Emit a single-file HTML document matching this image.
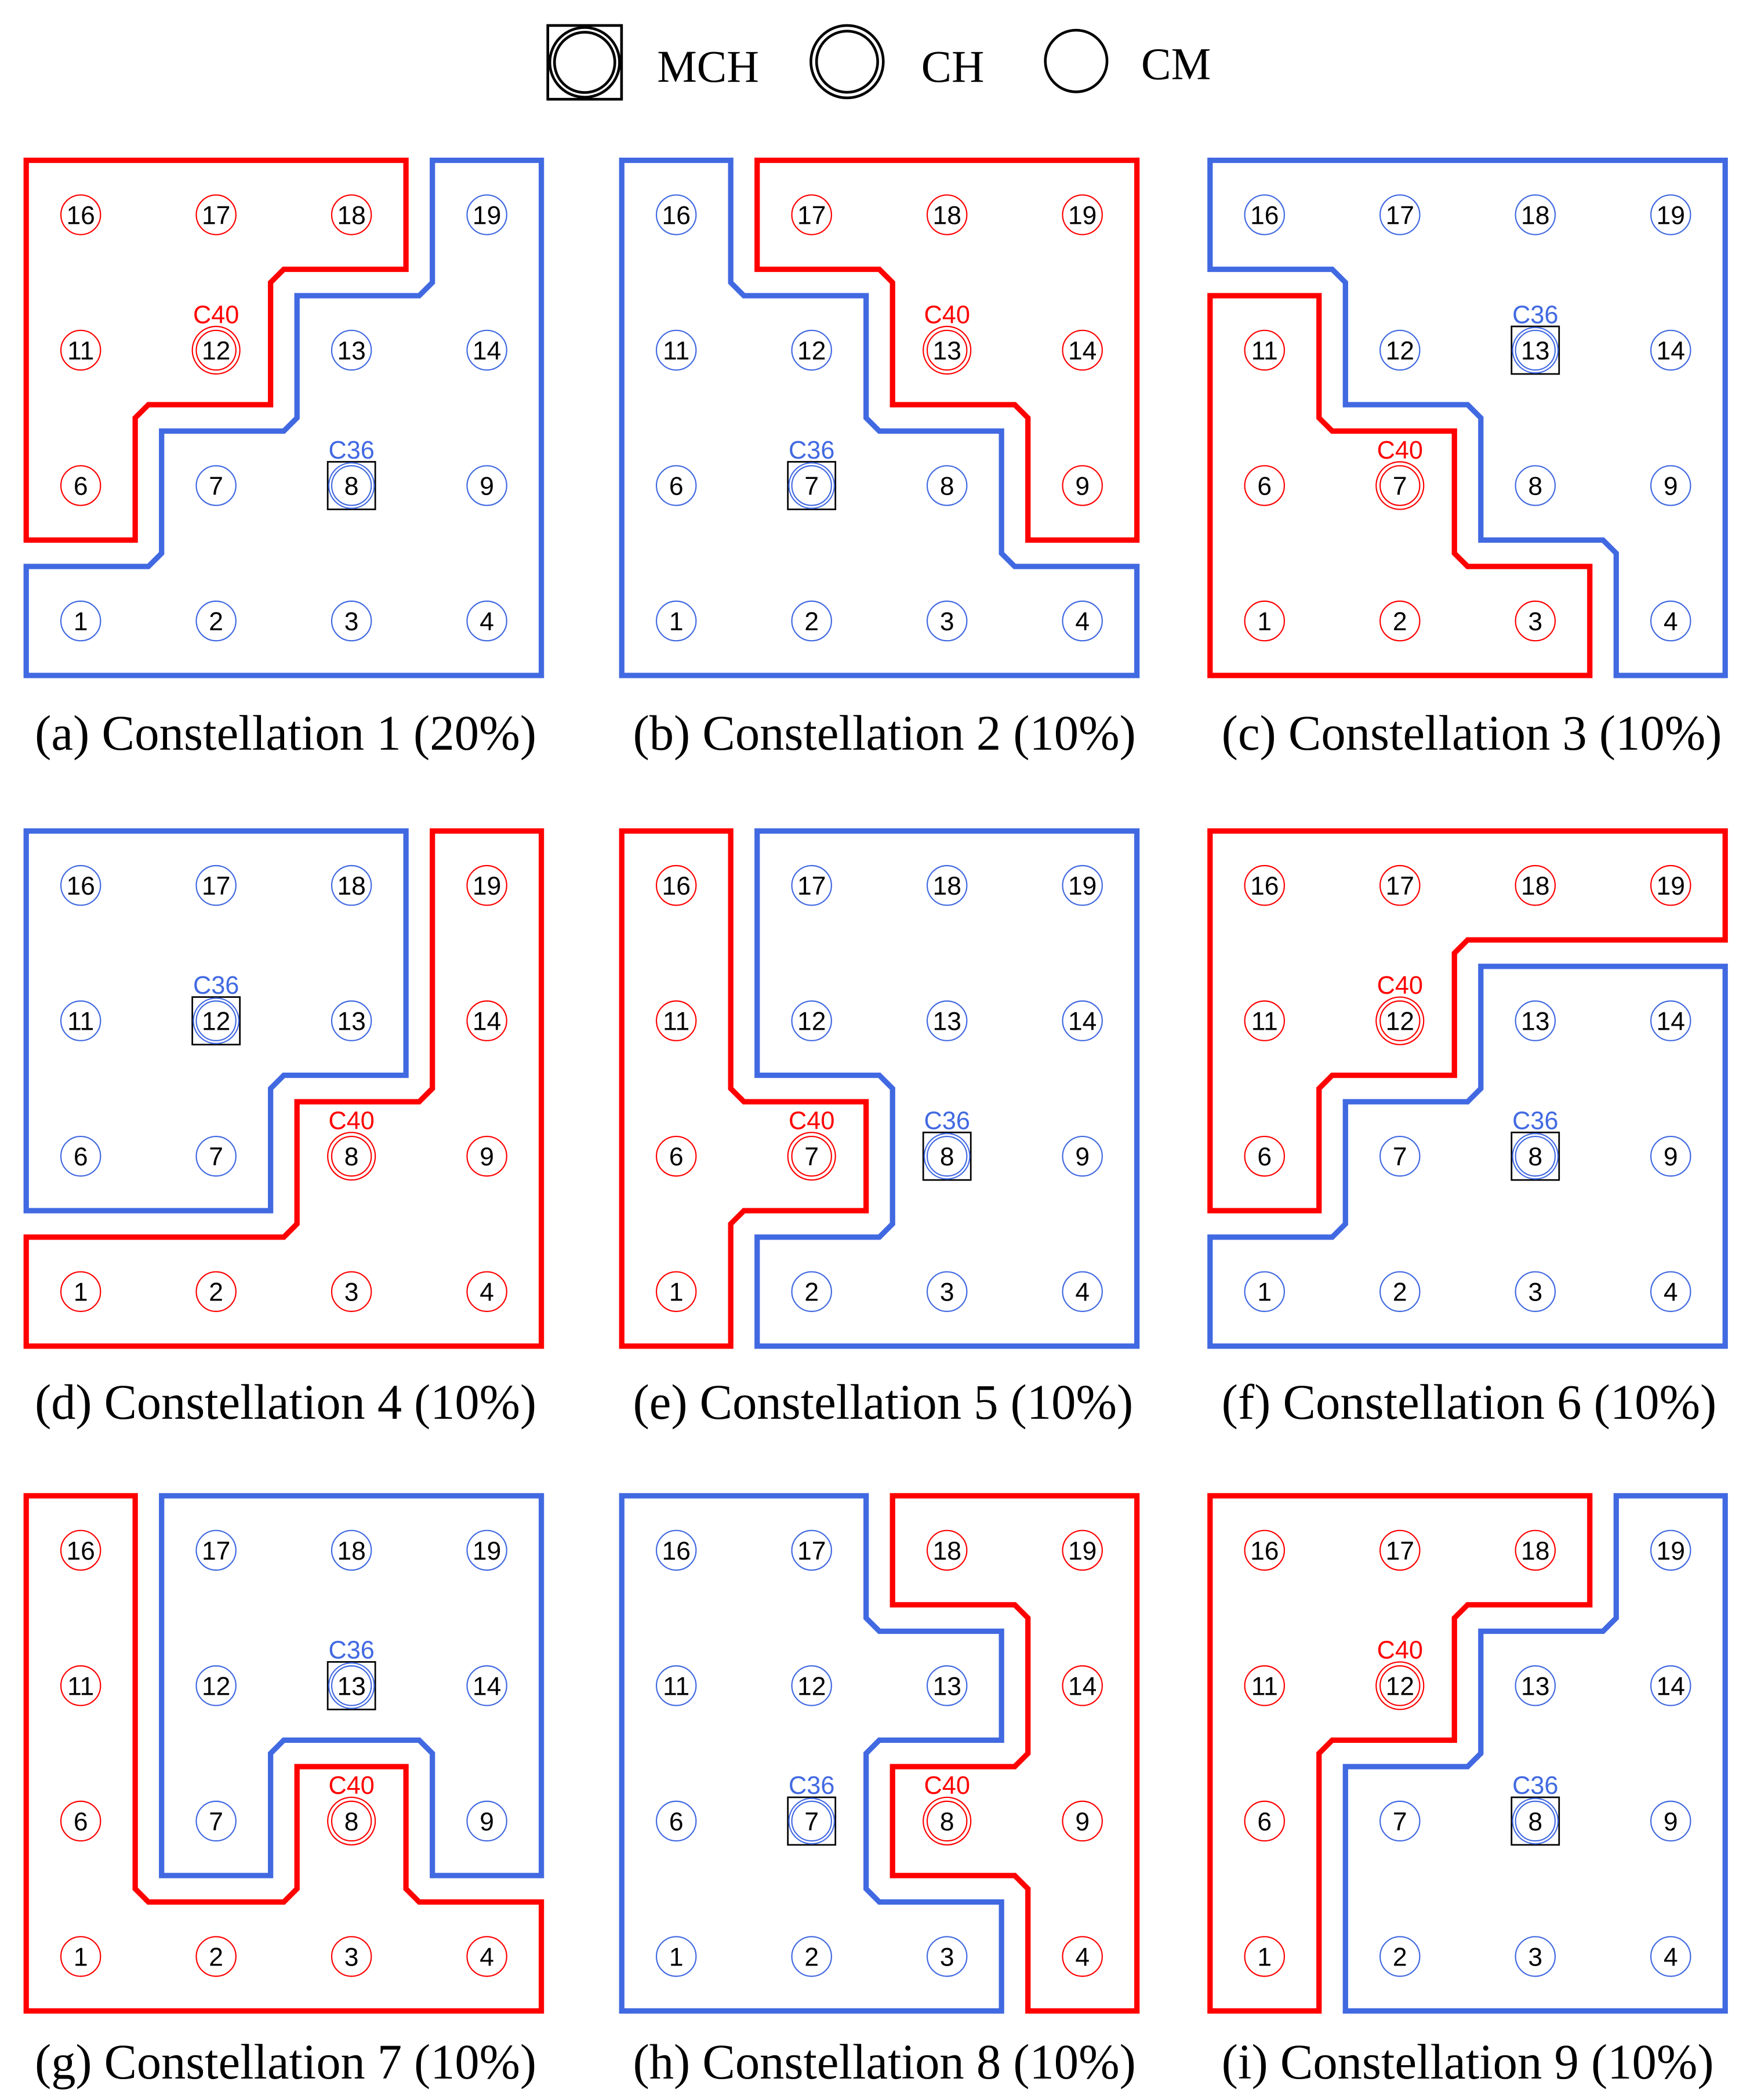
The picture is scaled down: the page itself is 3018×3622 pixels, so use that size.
<!DOCTYPE html>
<html><head><meta charset="utf-8"><style>
html,body{margin:0;padding:0;background:#fff}
svg{display:block}
.r{stroke:#ff0000;fill:none;stroke-width:0.95}
.b{stroke:#4169e1;fill:none;stroke-width:0.95}
.pr{stroke:#ff0000;fill:none;stroke-width:4.06;stroke-linejoin:miter}
.pb{stroke:#4169e1;fill:none;stroke-width:4.06;stroke-linejoin:miter}
.bx{stroke:#000;fill:none;stroke-width:1.2}
.n{font-family:"Liberation Sans",Arial,sans-serif;font-size:19.5px;text-anchor:middle;fill:#000}
.lr{font-family:"Liberation Sans",Arial,sans-serif;font-size:19px;text-anchor:middle;fill:#ff0000}
.lb{font-family:"Liberation Sans",Arial,sans-serif;font-size:19px;text-anchor:middle;fill:#4169e1}
.cap{font-family:"Liberation Serif","Times New Roman",serif;font-size:37px;text-anchor:middle;fill:#000}
.leg{font-family:"Liberation Serif","Times New Roman",serif;font-size:34px;fill:#000}
</style></head><body>
<svg width="3018" height="3622" viewBox="0 0 1305 1566" preserveAspectRatio="none" xmlns="http://www.w3.org/2000/svg">
<rect width="1305" height="1566" fill="#fff"/>
<!-- legend -->
<rect x="408.5" y="19" width="55" height="55" fill="none" stroke="#000" stroke-width="2"/>
<circle cx="436" cy="46.5" r="26" fill="none" stroke="#000" stroke-width="2"/>
<circle cx="436" cy="46.5" r="22.5" fill="none" stroke="#000" stroke-width="2"/>
<text class="leg" x="490" y="61" textLength="76" lengthAdjust="spacingAndGlyphs">MCH</text>
<circle cx="631.7" cy="46" r="27" fill="none" stroke="#000" stroke-width="2"/>
<circle cx="631.7" cy="46" r="22.8" fill="none" stroke="#000" stroke-width="2"/>
<text class="leg" x="687" y="61" textLength="47" lengthAdjust="spacingAndGlyphs">CH</text>
<circle cx="802.5" cy="45.5" r="23" fill="none" stroke="#000" stroke-width="2"/>
<text class="leg" x="851" y="59" textLength="52" lengthAdjust="spacingAndGlyphs">CM</text>

<!-- (a) -->
<g transform="translate(9.7,109.7) scale(0.985)">
<path class="pr" d="M10,10 H297.5 V92.5 H205 L195,102.5 V195 H102.5 L92.5,205 V297.5 H10 Z"/>
<path class="pb" d="M317.5,10 H400 V400 H10 V317.5 H102.5 L112.5,307.5 V215 H205 L215,205 V112.5 H307.5 L317.5,102.5 Z"/>
<circle class="r" cx="51.25" cy="51.25" r="15"/><text class="n" x="51.25" y="58.25">16</text>
<circle class="r" cx="153.75" cy="51.25" r="15"/><text class="n" x="153.75" y="58.25">17</text>
<circle class="r" cx="256.25" cy="51.25" r="15"/><text class="n" x="256.25" y="58.25">18</text>
<circle class="b" cx="358.75" cy="51.25" r="15"/><text class="n" x="358.75" y="58.25">19</text>
<circle class="r" cx="51.25" cy="153.75" r="15"/><text class="n" x="51.25" y="160.75">11</text>
<circle class="r" cx="153.75" cy="153.75" r="15"/><circle class="r" cx="153.75" cy="153.75" r="18"/><text class="n" x="153.75" y="160.75">12</text><text class="lr" x="153.75" y="133.25">C40</text>
<circle class="b" cx="256.25" cy="153.75" r="15"/><text class="n" x="256.25" y="160.75">13</text>
<circle class="b" cx="358.75" cy="153.75" r="15"/><text class="n" x="358.75" y="160.75">14</text>
<circle class="r" cx="51.25" cy="256.25" r="15"/><text class="n" x="51.25" y="263.25">6</text>
<circle class="b" cx="153.75" cy="256.25" r="15"/><text class="n" x="153.75" y="263.25">7</text>
<rect class="bx" x="238.25" y="238.25" width="36" height="36"/><circle class="b" cx="256.25" cy="256.25" r="15"/><circle class="b" cx="256.25" cy="256.25" r="17.2"/><text class="n" x="256.25" y="263.25">8</text><text class="lb" x="256.25" y="235.75">C36</text>
<circle class="b" cx="358.75" cy="256.25" r="15"/><text class="n" x="358.75" y="263.25">9</text>
<circle class="b" cx="51.25" cy="358.75" r="15"/><text class="n" x="51.25" y="365.75">1</text>
<circle class="b" cx="153.75" cy="358.75" r="15"/><text class="n" x="153.75" y="365.75">2</text>
<circle class="b" cx="256.25" cy="358.75" r="15"/><text class="n" x="256.25" y="365.75">3</text>
<circle class="b" cx="358.75" cy="358.75" r="15"/><text class="n" x="358.75" y="365.75">4</text>
</g>
<text class="cap" x="213" y="559" textLength="374" lengthAdjust="spacingAndGlyphs">(a) Constellation 1 (20%)</text>

<!-- (b) -->
<g transform="translate(453.8,109.7) scale(0.985)">
<path class="pr" d="M112.5,10 H400 V297.5 H317.5 V205 L307.5,195 H215 V102.5 L205,92.5 H112.5 Z"/>
<path class="pb" d="M10,10 H92.5 V102.5 L102.5,112.5 H195 V205 L205,215 H297.5 V307.5 L307.5,317.5 H400 V400 H10 Z"/>
<circle class="b" cx="51.25" cy="51.25" r="15"/><text class="n" x="51.25" y="58.25">16</text>
<circle class="r" cx="153.75" cy="51.25" r="15"/><text class="n" x="153.75" y="58.25">17</text>
<circle class="r" cx="256.25" cy="51.25" r="15"/><text class="n" x="256.25" y="58.25">18</text>
<circle class="r" cx="358.75" cy="51.25" r="15"/><text class="n" x="358.75" y="58.25">19</text>
<circle class="b" cx="51.25" cy="153.75" r="15"/><text class="n" x="51.25" y="160.75">11</text>
<circle class="b" cx="153.75" cy="153.75" r="15"/><text class="n" x="153.75" y="160.75">12</text>
<circle class="r" cx="256.25" cy="153.75" r="15"/><circle class="r" cx="256.25" cy="153.75" r="18"/><text class="n" x="256.25" y="160.75">13</text><text class="lr" x="256.25" y="133.25">C40</text>
<circle class="r" cx="358.75" cy="153.75" r="15"/><text class="n" x="358.75" y="160.75">14</text>
<circle class="b" cx="51.25" cy="256.25" r="15"/><text class="n" x="51.25" y="263.25">6</text>
<rect class="bx" x="135.75" y="238.25" width="36" height="36"/><circle class="b" cx="153.75" cy="256.25" r="15"/><circle class="b" cx="153.75" cy="256.25" r="17.2"/><text class="n" x="153.75" y="263.25">7</text><text class="lb" x="153.75" y="235.75">C36</text>
<circle class="b" cx="256.25" cy="256.25" r="15"/><text class="n" x="256.25" y="263.25">8</text>
<circle class="r" cx="358.75" cy="256.25" r="15"/><text class="n" x="358.75" y="263.25">9</text>
<circle class="b" cx="51.25" cy="358.75" r="15"/><text class="n" x="51.25" y="365.75">1</text>
<circle class="b" cx="153.75" cy="358.75" r="15"/><text class="n" x="153.75" y="365.75">2</text>
<circle class="b" cx="256.25" cy="358.75" r="15"/><text class="n" x="256.25" y="365.75">3</text>
<circle class="b" cx="358.75" cy="358.75" r="15"/><text class="n" x="358.75" y="365.75">4</text>
</g>
<text class="cap" x="659.5" y="559" textLength="375" lengthAdjust="spacingAndGlyphs">(b) Constellation 2 (10%)</text>

<!-- (c) -->
<g transform="translate(892.5,109.7) scale(0.985)">
<path class="pr" d="M10,112.5 H92.5 V205 L102.5,215 H195 V307.5 L205,317.5 H297.5 V400 H10 Z"/>
<path class="pb" d="M10,10 H400 V400 H317.5 V307.5 L307.5,297.5 H215 V205 L205,195 H112.5 V102.5 L102.5,92.5 H10 Z"/>
<circle class="b" cx="51.25" cy="51.25" r="15"/><text class="n" x="51.25" y="58.25">16</text>
<circle class="b" cx="153.75" cy="51.25" r="15"/><text class="n" x="153.75" y="58.25">17</text>
<circle class="b" cx="256.25" cy="51.25" r="15"/><text class="n" x="256.25" y="58.25">18</text>
<circle class="b" cx="358.75" cy="51.25" r="15"/><text class="n" x="358.75" y="58.25">19</text>
<circle class="r" cx="51.25" cy="153.75" r="15"/><text class="n" x="51.25" y="160.75">11</text>
<circle class="b" cx="153.75" cy="153.75" r="15"/><text class="n" x="153.75" y="160.75">12</text>
<rect class="bx" x="238.25" y="135.75" width="36" height="36"/><circle class="b" cx="256.25" cy="153.75" r="15"/><circle class="b" cx="256.25" cy="153.75" r="17.2"/><text class="n" x="256.25" y="160.75">13</text><text class="lb" x="256.25" y="133.25">C36</text>
<circle class="b" cx="358.75" cy="153.75" r="15"/><text class="n" x="358.75" y="160.75">14</text>
<circle class="r" cx="51.25" cy="256.25" r="15"/><text class="n" x="51.25" y="263.25">6</text>
<circle class="r" cx="153.75" cy="256.25" r="15"/><circle class="r" cx="153.75" cy="256.25" r="18"/><text class="n" x="153.75" y="263.25">7</text><text class="lr" x="153.75" y="235.75">C40</text>
<circle class="b" cx="256.25" cy="256.25" r="15"/><text class="n" x="256.25" y="263.25">8</text>
<circle class="b" cx="358.75" cy="256.25" r="15"/><text class="n" x="358.75" y="263.25">9</text>
<circle class="r" cx="51.25" cy="358.75" r="15"/><text class="n" x="51.25" y="365.75">1</text>
<circle class="r" cx="153.75" cy="358.75" r="15"/><text class="n" x="153.75" y="365.75">2</text>
<circle class="r" cx="256.25" cy="358.75" r="15"/><text class="n" x="256.25" y="365.75">3</text>
<circle class="b" cx="358.75" cy="358.75" r="15"/><text class="n" x="358.75" y="365.75">4</text>
</g>
<text class="cap" x="1097.5" y="559" textLength="373" lengthAdjust="spacingAndGlyphs">(c) Constellation 3 (10%)</text>

<!-- (d) -->
<g transform="translate(9.7,609.8) scale(0.985)">
<path class="pb" d="M10,10 H297.5 V195 H205 L195,205 V297.5 H10 Z"/>
<path class="pr" d="M317.5,10 H400 V400 H10 V317.5 H205 L215,307.5 V215 H307.5 L317.5,205 Z"/>
<circle class="b" cx="51.25" cy="51.25" r="15"/><text class="n" x="51.25" y="58.25">16</text>
<circle class="b" cx="153.75" cy="51.25" r="15"/><text class="n" x="153.75" y="58.25">17</text>
<circle class="b" cx="256.25" cy="51.25" r="15"/><text class="n" x="256.25" y="58.25">18</text>
<circle class="r" cx="358.75" cy="51.25" r="15"/><text class="n" x="358.75" y="58.25">19</text>
<circle class="b" cx="51.25" cy="153.75" r="15"/><text class="n" x="51.25" y="160.75">11</text>
<rect class="bx" x="135.75" y="135.75" width="36" height="36"/><circle class="b" cx="153.75" cy="153.75" r="15"/><circle class="b" cx="153.75" cy="153.75" r="17.2"/><text class="n" x="153.75" y="160.75">12</text><text class="lb" x="153.75" y="133.25">C36</text>
<circle class="b" cx="256.25" cy="153.75" r="15"/><text class="n" x="256.25" y="160.75">13</text>
<circle class="r" cx="358.75" cy="153.75" r="15"/><text class="n" x="358.75" y="160.75">14</text>
<circle class="b" cx="51.25" cy="256.25" r="15"/><text class="n" x="51.25" y="263.25">6</text>
<circle class="b" cx="153.75" cy="256.25" r="15"/><text class="n" x="153.75" y="263.25">7</text>
<circle class="r" cx="256.25" cy="256.25" r="15"/><circle class="r" cx="256.25" cy="256.25" r="18"/><text class="n" x="256.25" y="263.25">8</text><text class="lr" x="256.25" y="235.75">C40</text>
<circle class="r" cx="358.75" cy="256.25" r="15"/><text class="n" x="358.75" y="263.25">9</text>
<circle class="r" cx="51.25" cy="358.75" r="15"/><text class="n" x="51.25" y="365.75">1</text>
<circle class="r" cx="153.75" cy="358.75" r="15"/><text class="n" x="153.75" y="365.75">2</text>
<circle class="r" cx="256.25" cy="358.75" r="15"/><text class="n" x="256.25" y="365.75">3</text>
<circle class="r" cx="358.75" cy="358.75" r="15"/><text class="n" x="358.75" y="365.75">4</text>
</g>
<text class="cap" x="213" y="1058" textLength="374" lengthAdjust="spacingAndGlyphs">(d) Constellation 4 (10%)</text>

<!-- (e) -->
<g transform="translate(453.8,609.8) scale(0.985)">
<path class="pr" d="M10,10 H92.5 V205 L102.5,215 H195 V297.5 H102.5 L92.5,307.5 V400 H10 Z"/>
<path class="pb" d="M112.5,10 H400 V400 H112.5 V317.5 H205 L215,307.5 V205 L205,195 H112.5 Z"/>
<circle class="r" cx="51.25" cy="51.25" r="15"/><text class="n" x="51.25" y="58.25">16</text>
<circle class="b" cx="153.75" cy="51.25" r="15"/><text class="n" x="153.75" y="58.25">17</text>
<circle class="b" cx="256.25" cy="51.25" r="15"/><text class="n" x="256.25" y="58.25">18</text>
<circle class="b" cx="358.75" cy="51.25" r="15"/><text class="n" x="358.75" y="58.25">19</text>
<circle class="r" cx="51.25" cy="153.75" r="15"/><text class="n" x="51.25" y="160.75">11</text>
<circle class="b" cx="153.75" cy="153.75" r="15"/><text class="n" x="153.75" y="160.75">12</text>
<circle class="b" cx="256.25" cy="153.75" r="15"/><text class="n" x="256.25" y="160.75">13</text>
<circle class="b" cx="358.75" cy="153.75" r="15"/><text class="n" x="358.75" y="160.75">14</text>
<circle class="r" cx="51.25" cy="256.25" r="15"/><text class="n" x="51.25" y="263.25">6</text>
<circle class="r" cx="153.75" cy="256.25" r="15"/><circle class="r" cx="153.75" cy="256.25" r="18"/><text class="n" x="153.75" y="263.25">7</text><text class="lr" x="153.75" y="235.75">C40</text>
<rect class="bx" x="238.25" y="238.25" width="36" height="36"/><circle class="b" cx="256.25" cy="256.25" r="15"/><circle class="b" cx="256.25" cy="256.25" r="17.2"/><text class="n" x="256.25" y="263.25">8</text><text class="lb" x="256.25" y="235.75">C36</text>
<circle class="b" cx="358.75" cy="256.25" r="15"/><text class="n" x="358.75" y="263.25">9</text>
<circle class="r" cx="51.25" cy="358.75" r="15"/><text class="n" x="51.25" y="365.75">1</text>
<circle class="b" cx="153.75" cy="358.75" r="15"/><text class="n" x="153.75" y="365.75">2</text>
<circle class="b" cx="256.25" cy="358.75" r="15"/><text class="n" x="256.25" y="365.75">3</text>
<circle class="b" cx="358.75" cy="358.75" r="15"/><text class="n" x="358.75" y="365.75">4</text>
</g>
<text class="cap" x="658.5" y="1058" textLength="373" lengthAdjust="spacingAndGlyphs">(e) Constellation 5 (10%)</text>

<!-- (f) -->
<g transform="translate(892.5,609.8) scale(0.985)">
<path class="pr" d="M10,10 H400 V92.5 H205 L195,102.5 V195 H102.5 L92.5,205 V297.5 H10 Z"/>
<path class="pb" d="M215,112.5 H400 V400 H10 V317.5 H102.5 L112.5,307.5 V215 H205 L215,205 Z"/>
<circle class="r" cx="51.25" cy="51.25" r="15"/><text class="n" x="51.25" y="58.25">16</text>
<circle class="r" cx="153.75" cy="51.25" r="15"/><text class="n" x="153.75" y="58.25">17</text>
<circle class="r" cx="256.25" cy="51.25" r="15"/><text class="n" x="256.25" y="58.25">18</text>
<circle class="r" cx="358.75" cy="51.25" r="15"/><text class="n" x="358.75" y="58.25">19</text>
<circle class="r" cx="51.25" cy="153.75" r="15"/><text class="n" x="51.25" y="160.75">11</text>
<circle class="r" cx="153.75" cy="153.75" r="15"/><circle class="r" cx="153.75" cy="153.75" r="18"/><text class="n" x="153.75" y="160.75">12</text><text class="lr" x="153.75" y="133.25">C40</text>
<circle class="b" cx="256.25" cy="153.75" r="15"/><text class="n" x="256.25" y="160.75">13</text>
<circle class="b" cx="358.75" cy="153.75" r="15"/><text class="n" x="358.75" y="160.75">14</text>
<circle class="r" cx="51.25" cy="256.25" r="15"/><text class="n" x="51.25" y="263.25">6</text>
<circle class="b" cx="153.75" cy="256.25" r="15"/><text class="n" x="153.75" y="263.25">7</text>
<rect class="bx" x="238.25" y="238.25" width="36" height="36"/><circle class="b" cx="256.25" cy="256.25" r="15"/><circle class="b" cx="256.25" cy="256.25" r="17.2"/><text class="n" x="256.25" y="263.25">8</text><text class="lb" x="256.25" y="235.75">C36</text>
<circle class="b" cx="358.75" cy="256.25" r="15"/><text class="n" x="358.75" y="263.25">9</text>
<circle class="b" cx="51.25" cy="358.75" r="15"/><text class="n" x="51.25" y="365.75">1</text>
<circle class="b" cx="153.75" cy="358.75" r="15"/><text class="n" x="153.75" y="365.75">2</text>
<circle class="b" cx="256.25" cy="358.75" r="15"/><text class="n" x="256.25" y="365.75">3</text>
<circle class="b" cx="358.75" cy="358.75" r="15"/><text class="n" x="358.75" y="365.75">4</text>
</g>
<text class="cap" x="1095.5" y="1058" textLength="369" lengthAdjust="spacingAndGlyphs">(f) Constellation 6 (10%)</text>

<!-- (g) -->
<g transform="translate(9.7,1105.6) scale(0.985)">
<path class="pr" d="M10,10 H92.5 V307.5 L102.5,317.5 H205 L215,307.5 V215 H297.5 V307.5 L307.5,317.5 H400 V400 H10 Z"/>
<path class="pb" d="M112.5,10 H400 V297.5 H317.5 V205 L307.5,195 H205 L195,205 V297.5 H112.5 Z"/>
<circle class="r" cx="51.25" cy="51.25" r="15"/><text class="n" x="51.25" y="58.25">16</text>
<circle class="b" cx="153.75" cy="51.25" r="15"/><text class="n" x="153.75" y="58.25">17</text>
<circle class="b" cx="256.25" cy="51.25" r="15"/><text class="n" x="256.25" y="58.25">18</text>
<circle class="b" cx="358.75" cy="51.25" r="15"/><text class="n" x="358.75" y="58.25">19</text>
<circle class="r" cx="51.25" cy="153.75" r="15"/><text class="n" x="51.25" y="160.75">11</text>
<circle class="b" cx="153.75" cy="153.75" r="15"/><text class="n" x="153.75" y="160.75">12</text>
<rect class="bx" x="238.25" y="135.75" width="36" height="36"/><circle class="b" cx="256.25" cy="153.75" r="15"/><circle class="b" cx="256.25" cy="153.75" r="17.2"/><text class="n" x="256.25" y="160.75">13</text><text class="lb" x="256.25" y="133.25">C36</text>
<circle class="b" cx="358.75" cy="153.75" r="15"/><text class="n" x="358.75" y="160.75">14</text>
<circle class="r" cx="51.25" cy="256.25" r="15"/><text class="n" x="51.25" y="263.25">6</text>
<circle class="b" cx="153.75" cy="256.25" r="15"/><text class="n" x="153.75" y="263.25">7</text>
<circle class="r" cx="256.25" cy="256.25" r="15"/><circle class="r" cx="256.25" cy="256.25" r="18"/><text class="n" x="256.25" y="263.25">8</text><text class="lr" x="256.25" y="235.75">C40</text>
<circle class="b" cx="358.75" cy="256.25" r="15"/><text class="n" x="358.75" y="263.25">9</text>
<circle class="r" cx="51.25" cy="358.75" r="15"/><text class="n" x="51.25" y="365.75">1</text>
<circle class="r" cx="153.75" cy="358.75" r="15"/><text class="n" x="153.75" y="365.75">2</text>
<circle class="r" cx="256.25" cy="358.75" r="15"/><text class="n" x="256.25" y="365.75">3</text>
<circle class="r" cx="358.75" cy="358.75" r="15"/><text class="n" x="358.75" y="365.75">4</text>
</g>
<text class="cap" x="213" y="1550" textLength="374" lengthAdjust="spacingAndGlyphs">(g) Constellation 7 (10%)</text>

<!-- (h) -->
<g transform="translate(453.8,1105.6) scale(0.985)">
<path class="pb" d="M10,10 H195 V102.5 L205,112.5 H297.5 V195 H205 L195,205 V307.5 L205,317.5 H297.5 V400 H10 Z"/>
<path class="pr" d="M215,10 H400 V400 H317.5 V307.5 L307.5,297.5 H215 V215 H307.5 L317.5,205 V102.5 L307.5,92.5 H215 Z"/>
<circle class="b" cx="51.25" cy="51.25" r="15"/><text class="n" x="51.25" y="58.25">16</text>
<circle class="b" cx="153.75" cy="51.25" r="15"/><text class="n" x="153.75" y="58.25">17</text>
<circle class="r" cx="256.25" cy="51.25" r="15"/><text class="n" x="256.25" y="58.25">18</text>
<circle class="r" cx="358.75" cy="51.25" r="15"/><text class="n" x="358.75" y="58.25">19</text>
<circle class="b" cx="51.25" cy="153.75" r="15"/><text class="n" x="51.25" y="160.75">11</text>
<circle class="b" cx="153.75" cy="153.75" r="15"/><text class="n" x="153.75" y="160.75">12</text>
<circle class="b" cx="256.25" cy="153.75" r="15"/><text class="n" x="256.25" y="160.75">13</text>
<circle class="r" cx="358.75" cy="153.75" r="15"/><text class="n" x="358.75" y="160.75">14</text>
<circle class="b" cx="51.25" cy="256.25" r="15"/><text class="n" x="51.25" y="263.25">6</text>
<rect class="bx" x="135.75" y="238.25" width="36" height="36"/><circle class="b" cx="153.75" cy="256.25" r="15"/><circle class="b" cx="153.75" cy="256.25" r="17.2"/><text class="n" x="153.75" y="263.25">7</text><text class="lb" x="153.75" y="235.75">C36</text>
<circle class="r" cx="256.25" cy="256.25" r="15"/><circle class="r" cx="256.25" cy="256.25" r="18"/><text class="n" x="256.25" y="263.25">8</text><text class="lr" x="256.25" y="235.75">C40</text>
<circle class="r" cx="358.75" cy="256.25" r="15"/><text class="n" x="358.75" y="263.25">9</text>
<circle class="b" cx="51.25" cy="358.75" r="15"/><text class="n" x="51.25" y="365.75">1</text>
<circle class="b" cx="153.75" cy="358.75" r="15"/><text class="n" x="153.75" y="365.75">2</text>
<circle class="b" cx="256.25" cy="358.75" r="15"/><text class="n" x="256.25" y="365.75">3</text>
<circle class="r" cx="358.75" cy="358.75" r="15"/><text class="n" x="358.75" y="365.75">4</text>
</g>
<text class="cap" x="659.5" y="1550" textLength="375" lengthAdjust="spacingAndGlyphs">(h) Constellation 8 (10%)</text>

<!-- (i) -->
<g transform="translate(892.5,1105.6) scale(0.985)">
<path class="pr" d="M10,10 H297.5 V92.5 H205 L195,102.5 V195 H102.5 L92.5,205 V400 H10 Z"/>
<path class="pb" d="M317.5,10 H400 V400 H112.5 V215 H205 L215,205 V112.5 H307.5 L317.5,102.5 Z"/>
<circle class="r" cx="51.25" cy="51.25" r="15"/><text class="n" x="51.25" y="58.25">16</text>
<circle class="r" cx="153.75" cy="51.25" r="15"/><text class="n" x="153.75" y="58.25">17</text>
<circle class="r" cx="256.25" cy="51.25" r="15"/><text class="n" x="256.25" y="58.25">18</text>
<circle class="b" cx="358.75" cy="51.25" r="15"/><text class="n" x="358.75" y="58.25">19</text>
<circle class="r" cx="51.25" cy="153.75" r="15"/><text class="n" x="51.25" y="160.75">11</text>
<circle class="r" cx="153.75" cy="153.75" r="15"/><circle class="r" cx="153.75" cy="153.75" r="18"/><text class="n" x="153.75" y="160.75">12</text><text class="lr" x="153.75" y="133.25">C40</text>
<circle class="b" cx="256.25" cy="153.75" r="15"/><text class="n" x="256.25" y="160.75">13</text>
<circle class="b" cx="358.75" cy="153.75" r="15"/><text class="n" x="358.75" y="160.75">14</text>
<circle class="r" cx="51.25" cy="256.25" r="15"/><text class="n" x="51.25" y="263.25">6</text>
<circle class="b" cx="153.75" cy="256.25" r="15"/><text class="n" x="153.75" y="263.25">7</text>
<rect class="bx" x="238.25" y="238.25" width="36" height="36"/><circle class="b" cx="256.25" cy="256.25" r="15"/><circle class="b" cx="256.25" cy="256.25" r="17.2"/><text class="n" x="256.25" y="263.25">8</text><text class="lb" x="256.25" y="235.75">C36</text>
<circle class="b" cx="358.75" cy="256.25" r="15"/><text class="n" x="358.75" y="263.25">9</text>
<circle class="r" cx="51.25" cy="358.75" r="15"/><text class="n" x="51.25" y="365.75">1</text>
<circle class="b" cx="153.75" cy="358.75" r="15"/><text class="n" x="153.75" y="365.75">2</text>
<circle class="b" cx="256.25" cy="358.75" r="15"/><text class="n" x="256.25" y="365.75">3</text>
<circle class="b" cx="358.75" cy="358.75" r="15"/><text class="n" x="358.75" y="365.75">4</text>
</g>
<text class="cap" x="1094.5" y="1550" textLength="367" lengthAdjust="spacingAndGlyphs">(i) Constellation 9 (10%)</text>
</svg>
</body></html>
